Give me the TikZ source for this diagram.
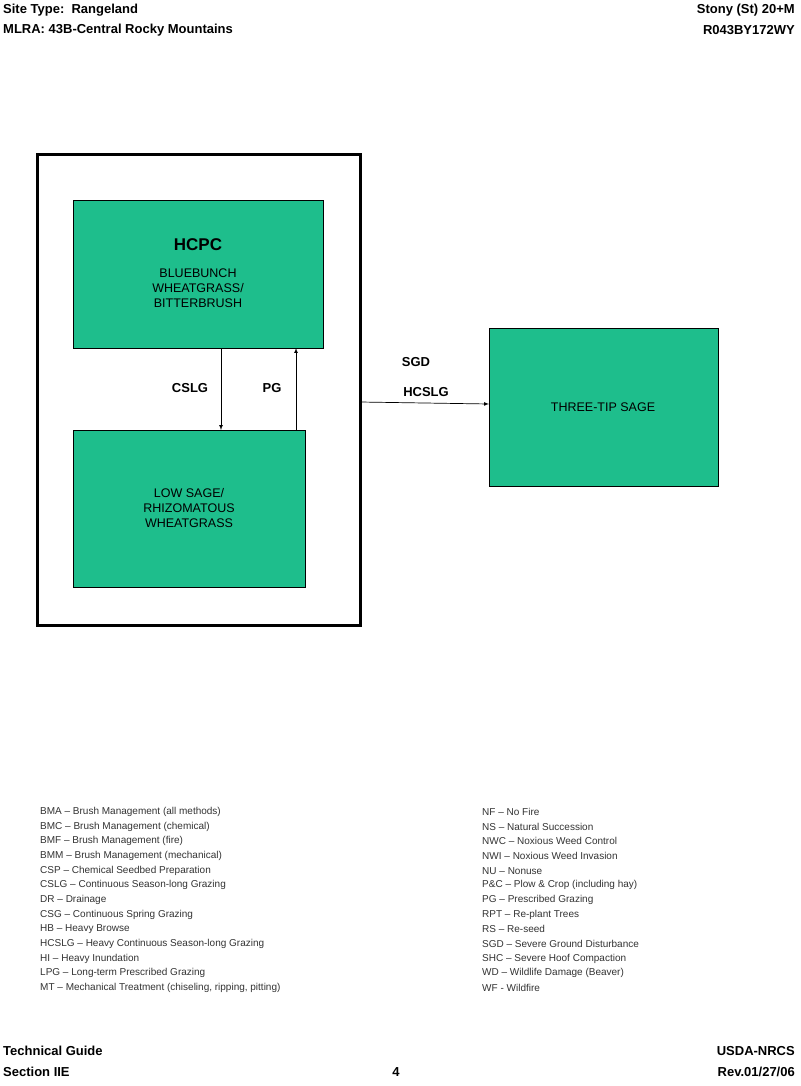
\documentclass[tikz,border=0pt]{standalone}
\usepackage{fontspec}
\setmainfont{Liberation Sans}
\begin{document}
\begin{tikzpicture}[x=1pt,y=-1pt,
  state/.style={draw=black,fill=stgreen,line width=0.8pt},
  hdr/.style={font=\fontsize{13}{13}\selectfont\bfseries,inner sep=0pt},
  lbl/.style={font=\fontsize{13}{13}\selectfont\bfseries,inner sep=0pt},
  lt/.style={font=\fontsize{12.5}{15}\selectfont,align=center,inner sep=0pt},
  leg/.style={font=\fontsize{10}{10}\selectfont,anchor=west,inner sep=0pt,text=black!80},
  arr/.style={-latex,line width=0.7pt}]
\definecolor{stgreen}{RGB}{30,190,140}
\useasboundingbox[fill=white] (0,0) rectangle (800,1086);
% header
\node[hdr,anchor=west] (h1) at (3,10) {Site Type:\ \ Rangeland};
\node[hdr,anchor=west] (h2) at (3,30) {MLRA: 43B-Central Rocky Mountains};
\node[hdr,anchor=east] (h3) at (795,10) {Stony (St) 20+M};
\node[hdr,anchor=east] (h4) at (795,30) {R043BY172WY};
% frame
\draw[line width=3pt] (37,155) rectangle (360,625);
\coordinate (fr) at (360,402);
% states
\draw[state] (73,200) rectangle (323,348);
\node (hcpc) at (198,274) {};
\node[font=\fontsize{17}{17}\selectfont\bfseries] (t1) at (198,245) {HCPC};
\node[lt] (t2) at (198,288) {BLUEBUNCH\\WHEATGRASS/\\BITTERBRUSH};
\draw[state] (73,430) rectangle (305,587);
\node[lt] (t3) at (189,508) {LOW SAGE/\\RHIZOMATOUS\\WHEATGRASS};
\draw[state] (489,328) rectangle (718,486);
\node[lt] (t4) at (603,407) {THREE-TIP SAGE};
% arrows
\coordinate (a1) at (221,348); \coordinate (a2) at (221,430);
\coordinate (b1) at (296,430); \coordinate (b2) at (296,348);
\coordinate (c2) at (489,404);
\draw[arr] (a1) -- (a2);
\draw[arr] (b1) -- (b2);
\draw[arr] (fr) -- (c2);
\node[lbl] (l1) at (190,388) {CSLG};
\node[lbl] (l2) at (272,388) {PG};
\node[lbl] (l3) at (416,362) {SGD};
\node[lbl] (l4) at (426,392) {HCSLG};
% legend
\foreach \t [count=\i from 0] in {BMA -- Brush Management (all methods),BMC -- Brush Management (chemical),BMF -- Brush Management (fire),BMM -- Brush Management (mechanical),CSP -- Chemical Seedbed Preparation,CSLG -- Continuous Season-long Grazing,DR -- Drainage,CSG -- Continuous Spring Grazing,HB -- Heavy Browse,HCSLG -- Heavy Continuous Season-long Grazing,HI -- Heavy Inundation,LPG -- Long-term Prescribed Grazing,{MT -- Mechanical Treatment (chiseling, ripping, pitting)}}
  \node[leg] (L\i) at (40,812+14.67*\i) {\t};
\foreach \t [count=\i from 0] in {NF -- No Fire,NS -- Natural Succession,NWC -- Noxious Weed Control,NWI -- Noxious Weed Invasion,NU -- Nonuse,P\&C -- Plow \& Crop (including hay),PG -- Prescribed Grazing,RPT -- Re-plant Trees,RS -- Re-seed,SGD -- Severe Ground Disturbance,SHC -- Severe Hoof Compaction,WD -- Wildlife Damage (Beaver),WF - Wildfire}
  \node[leg] (R\i) at (482,812+14.67*\i) {\t};
% footer
\node[hdr,anchor=west] (f1) at (3,1051) {Technical Guide};
\node[hdr,anchor=west] (f2) at (3,1072) {Section IIE};
\node[hdr] (f3) at (396,1072) {4};
\node[hdr,anchor=east] (f4) at (795,1051) {USDA-NRCS};
\node[hdr,anchor=east] (f5) at (795,1072) {Rev.01/27/06};
\end{tikzpicture}
\end{document}
